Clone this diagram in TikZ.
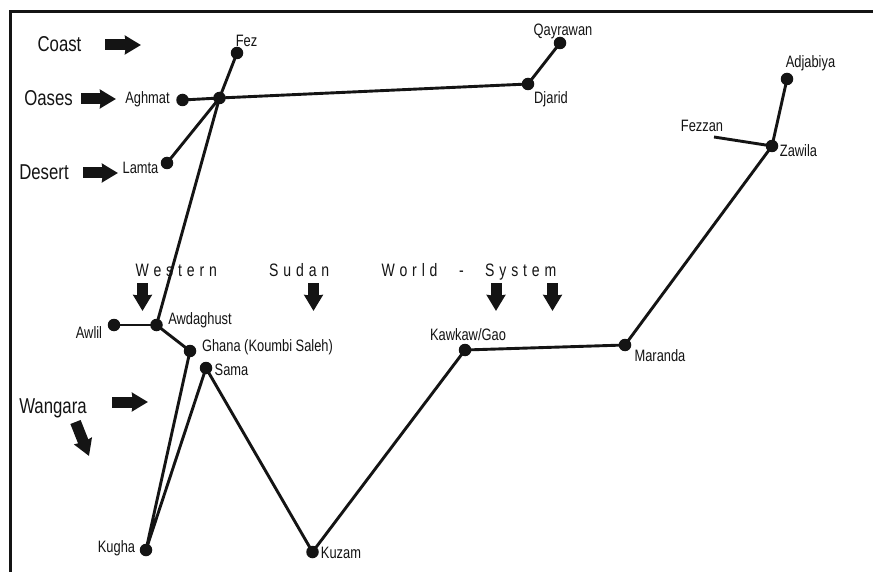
\documentclass[tikz,border=0pt]{standalone}
\usepackage{fontspec}
\setmainfont[FakeStretch=0.78]{Liberation Sans}
\newfontfamily\spacedfont[FakeStretch=0.78,LetterSpace=27,WordSpace=1]{Liberation Sans}
\usetikzlibrary{arrows.meta}
\definecolor{ink}{HTML}{141414}
\tikzset{
  x=1pt,y=-1pt,
  stop/.style={circle,fill=ink,inner sep=0pt,minimum size=12.5pt},
  link/.style={draw=ink,line width=2.9pt},
  frameline/.style={draw=ink,line width=2.8pt},
  fat/.style={draw=ink,line width=11pt,-{Stealth[length=16pt,width=18.5pt,inset=1pt]},shorten >=0pt},
  place/.style={text=ink,font=\fontsize{16.5}{18}\selectfont,inner sep=0pt},
  zone/.style={text=ink,font=\fontsize{21.5}{23}\selectfont,inner sep=0pt},
  span/.style={text=ink,font=\fontsize{18}{20}\spacedfont,inner sep=0pt,anchor=base west}
}
\begin{document}
\begin{tikzpicture}
\useasboundingbox (0,0) rectangle (873,572);
\fill[white] (0,0) rectangle (873,572);
\coordinate (frameA) at (10.5,572);
\coordinate (frameB) at (10.5,11.5);
\coordinate (frameC) at (873,11.5);
\draw[frameline] (frameA) -- (frameB) -- (frameC);

\node[stop] (fez) at (237,53) {};
\node[stop] (hub) at (219.5,98) {};
\node[stop] (aghmat) at (182.5,100) {};
\node[stop] (lamta) at (167,163) {};
\node[stop] (djarid) at (528,84) {};
\node[stop] (qayrawan) at (560,43) {};
\node[stop] (adjabiya) at (787,79) {};
\node[stop] (zawila) at (772,146) {};
\coordinate (fezzanEnd) at (714,137);
\node[stop] (maranda) at (625,345) {};
\node[stop] (kawkaw) at (465,350) {};
\node[stop] (kuzam) at (312.5,552) {};
\node[stop] (sama) at (206,368) {};
\node[stop] (ghana) at (190,351) {};
\node[stop] (awdaghust) at (156.5,325) {};
\node[stop] (awlil) at (114,325) {};
\node[stop] (kugha) at (146,550) {};

\draw[link] (fez.center) -- (hub.center) -- (awdaghust.center) -- (ghana.center) -- (kugha.center) -- (sama.center) -- (kuzam.center) -- (kawkaw.center) -- (maranda.center) -- (zawila.center) -- (adjabiya.center);
\draw[link] (aghmat.center) -- (hub.center) -- (djarid.center) -- (qayrawan.center);
\draw[link] (lamta.center) -- (hub.center);
\draw[link] (awlil.center) -- (awdaghust.center);
\draw[link] (fezzanEnd) -- (zawila.center);

\node[place] (tFez) at (246.5,41) {Fez};
\node[place] (tAghmat) at (147.5,99.5) {Aghmat};
\node[place] (tLamta) at (140.5,168) {Lamta};
\node[place] (tQayrawan) at (563,31) {Qayrawan};
\node[place] (tDjarid) at (551,99) {Djarid};
\node[place] (tAdjabiya) at (810.5,63.5) {Adjabiya};
\node[place] (tFezzan) at (702,126) {Fezzan};
\node[place] (tZawila) at (798.5,151) {Zawila};
\node[place] (tMaranda) at (660,356) {Maranda};
\node[place] (tKawkaw) at (468,335) {Kawkaw/Gao};
\node[place] (tKuzam) at (341,553) {Kuzam};
\node[place] (tSama) at (231.5,370) {Sama};
\node[place] (tGhana) at (267.5,347) {Ghana (Koumbi Saleh)};
\node[place] (tAwdaghust) at (200,320) {Awdaghust};
\node[place] (tAwlil) at (89,333) {Awlil};
\node[place] (tKugha) at (116.5,548) {Kugha};

\node[zone] (tCoast) at (59.5,44.5) {Coast};
\node[zone] (tOases) at (48.5,98) {Oases};
\node[zone] (tDesert) at (44,172.5) {Desert};
\node[zone] (tWangara) at (53,408) {Wangara};

\node[span] (tWestern) at (135.5,276.5) {Western};
\node[span] (tSudan) at (269,276.5) {Sudan};
\node[span] (tWorld) at (381.5,276.5) {World};
\node[span] (tDash) at (459,276.5) {-};
\node[span] (tSystem) at (485,276.5) {System};

\coordinate (a1s) at (105,45); \coordinate (a1e) at (141,45);
\coordinate (a2s) at (81,99); \coordinate (a2e) at (116,99);
\coordinate (a3s) at (83,173); \coordinate (a3e) at (118,173);
\coordinate (a4s) at (112,402); \coordinate (a4e) at (148,402);
\coordinate (a5s) at (75.5,422); \coordinate (a5e) at (89,456);
\coordinate (a6s) at (142.5,283); \coordinate (a6e) at (142.5,311);
\coordinate (a7s) at (313.5,283); \coordinate (a7e) at (313.5,311);
\coordinate (a8s) at (496,283); \coordinate (a8e) at (496,311);
\coordinate (a9s) at (552.5,283); \coordinate (a9e) at (552.5,311);
\foreach \k in {1,...,9} \draw[fat] (a\k s) -- (a\k e);
\end{tikzpicture}
\end{document}
